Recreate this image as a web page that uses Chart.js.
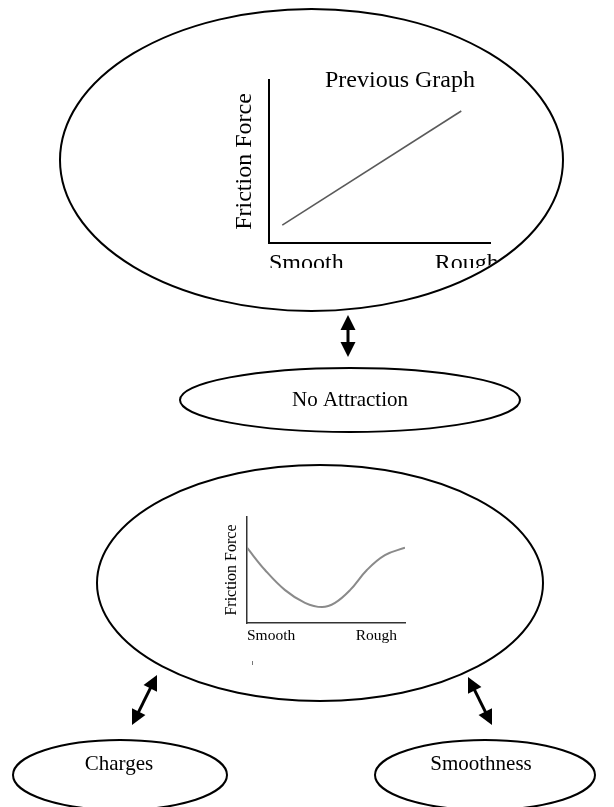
<!DOCTYPE html>
<html>
<head>
<meta charset="utf-8">
<script src="https://cdn.jsdelivr.net/npm/chart.js@4"></script>
<style>
  body { margin: 0; background: #fff; }
  #page { position: relative; width: 614px; height: 807px; overflow: hidden; background: #fff; }
  .box { position: absolute; }
  #prevBox { left: 230px; top: 60px; width: 340px; height: 208px; clip-path: ellipse(250px 150px at 81.5px 100px); }
  #curveBox { left: 210px; top: 505px; width: 210px; height: 150px; }
  #shapes { position: absolute; left: 0; top: 0; z-index: 2; }
</style>
</head>
<body>
<div id="page">
  <div class="box" id="prevBox"><canvas id="prevChart" width="340" height="208"></canvas></div>
  <div class="box" id="curveBox"><canvas id="curveChart" width="210" height="150"></canvas></div>
  <canvas id="shapes" width="614" height="807"></canvas>
</div>
<script>
// texts
const xTickLabels = ['Smooth', 'Rough'];
const yTitle = 'Friction Force';
const prevTitle = 'Previous Graph';
const bubbleLabels = ['No Attraction', 'Charges', 'Smoothness'];

// top graph: straight line (0..1 on both axes)
const prevX = [0.06, 0.87];
const prevY = [0.11, 0.81];
const prevTicks = [0, 1.04];

// bottom graph: dip curve
const curveX = [0, 0.114, 0.241, 0.367, 0.475, 0.557, 0.652, 0.759, 0.873, 1.0];
const curveY = [0.71, 0.50, 0.31, 0.19, 0.15, 0.19, 0.31, 0.50, 0.64, 0.71];
const curveTicks = [0, 0.95];

const SERIF = "'Liberation Serif', 'Times New Roman', serif";

const graph = (id, xs, ys, cfg) => {
    const ctx = document.getElementById(id).getContext('2d');
    return new Chart(ctx, {
        type: 'line',
        data: {
            datasets: [{
                data: xs.map((x, i) => ({x, y: ys[i]})),
                borderColor: cfg.lineColor,
                borderWidth: cfg.lineWidth,
                pointRadius: 0,
                tension: cfg.tension,
                fill: false
            }]
        },
        options: {
            responsive: false,
            animation: false,
            devicePixelRatio: 1,
            layout: {padding: cfg.padding},
            plugins: {legend: {display: false}, tooltip: {enabled: false}},
            scales: {
                x: {
                    type: 'linear', min: 0, max: 1,
                    afterBuildTicks: s => { s.ticks = cfg.tickAt.map(v => ({value: v})); },
                    afterFit: s => { s.height = cfg.xHeight; },
                    grid: {display: false, drawTicks: false},
                    border: {display: true, color: cfg.axisColor, width: cfg.axisWidth},
                    ticks: {
                        align: 'inner', padding: cfg.tickPad, color: '#000',
                        autoSkip: false, maxRotation: 0,
                        font: {family: SERIF, size: cfg.tickSize},
                        callback: (v, i) => xTickLabels[i]
                    }
                },
                y: {
                    min: 0, max: 1,
                    afterFit: s => { s.width = cfg.yWidth; },
                    grid: {display: false, drawTicks: false},
                    border: {display: true, color: cfg.axisColor, width: cfg.axisWidth},
                    ticks: {display: false},
                    title: {
                        display: true, text: yTitle, color: '#000',
                        font: {family: SERIF, size: cfg.titleSize},
                        padding: {top: cfg.titlePad, bottom: 0}
                    }
                }
            }
        },
        plugins: cfg.plugins || []
    });
};

// "Previous Graph" sits beside the top of the y axis, so it is drawn by hand
const prevTitlePlugin = {
    id: 'prevTitle',
    afterDraw(chart) {
        const {ctx, chartArea} = chart;
        ctx.save();
        ctx.font = `24px ${SERIF}`;
        ctx.fillStyle = '#000';
        ctx.textAlign = 'center';
        ctx.fillText(prevTitle, chartArea.left + 131, chartArea.top + 7);
        ctx.restore();
    }
};

graph('prevChart', prevX, prevY, {
    lineColor: '#5a5a5a', lineWidth: 1.6, tension: 0,
    padding: {top: 20, right: 80, bottom: 0, left: 0},
    tickAt: prevTicks, xHeight: 25, yWidth: 39,
    axisColor: '#000', axisWidth: 2,
    tickPad: 6, tickSize: 24, titleSize: 24, titlePad: 0.6,
    plugins: [prevTitlePlugin]
});

graph('curveChart', curveX, curveY, {
    lineColor: '#8a8a8a', lineWidth: 2, tension: 0.4,
    padding: {top: 12, right: 15, bottom: 0, left: 0},
    tickAt: curveTicks, xHeight: 32, yWidth: 37,
    axisColor: '#333', axisWidth: 1.5,
    tickPad: 4, tickSize: 15.5, titleSize: 16, titlePad: 12
});

// diagram: bubbles and arrows
const c = document.getElementById('shapes').getContext('2d');
c.strokeStyle = '#000';
c.fillStyle = '#000';
c.lineWidth = 2;

const ellipse = (cx, cy, rx, ry) => {
    c.beginPath();
    c.ellipse(cx, cy, rx, ry, 0, 0, Math.PI * 2);
    c.stroke();
};

const head = (x, y, ang) => {
    const len = 15, half = 7.5;
    c.beginPath();
    c.moveTo(x, y);
    c.lineTo(x - len * Math.cos(ang) + half * Math.sin(ang), y - len * Math.sin(ang) - half * Math.cos(ang));
    c.lineTo(x - len * Math.cos(ang) - half * Math.sin(ang), y - len * Math.sin(ang) + half * Math.cos(ang));
    c.closePath();
    c.fill();
};

const arrow = (x1, y1, x2, y2) => {
    const ang = Math.atan2(y2 - y1, x2 - x1);
    c.save();
    c.lineWidth = 3;
    c.beginPath();
    c.moveTo(x1 + 10 * Math.cos(ang), y1 + 10 * Math.sin(ang));
    c.lineTo(x2 - 10 * Math.cos(ang), y2 - 10 * Math.sin(ang));
    c.stroke();
    c.restore();
    head(x2, y2, ang);
    head(x1, y1, ang + Math.PI);
};

ellipse(311.5, 160, 251.5, 151);
ellipse(350, 400, 170, 32);
ellipse(320, 583, 223, 118);
ellipse(120, 775, 107, 35);
ellipse(485, 775, 110, 35);

arrow(348, 315, 348, 357);
arrow(157, 675, 132, 725);
arrow(468, 677, 492, 725);

// stray mark under the small graph
c.save();
c.strokeStyle = '#777';
c.lineWidth = 1;
c.beginPath();
c.moveTo(252.5, 661);
c.lineTo(252.5, 665);
c.stroke();
c.restore();

c.font = `21px ${SERIF}`;
c.textAlign = 'center';
c.fillText(bubbleLabels[0], 350, 406);
c.fillText(bubbleLabels[1], 119, 770);
c.fillText(bubbleLabels[2], 481, 770);
</script>
</body>
</html>
